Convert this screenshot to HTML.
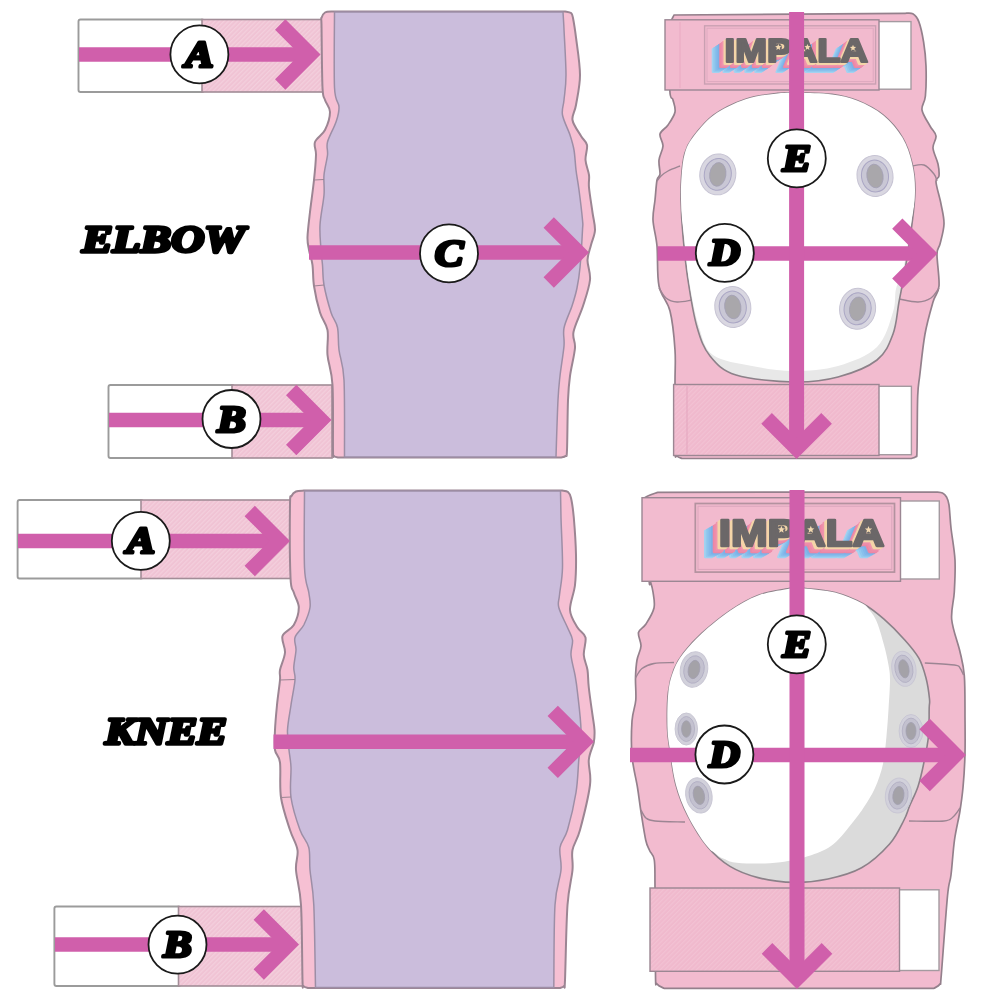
<!DOCTYPE html>
<html><head><meta charset="utf-8"><title>Impala protective sizing</title>
<style>
html,body{margin:0;padding:0;background:#fff;}
body{width:1000px;height:1000px;overflow:hidden;font-family:"Liberation Sans",sans-serif;}
svg{display:block;filter:blur(0.45px)}
.lt{font-family:"Liberation Serif",serif;font-weight:bold;font-style:italic;font-size:38px;fill:#000;stroke:#000;stroke-width:3.2px;stroke-linejoin:round}
.tt{font-family:"Liberation Serif",serif;font-weight:bold;font-style:italic;font-size:37px;fill:#000;stroke:#000;stroke-width:3.4px;stroke-linejoin:round}
.lg{font-family:"Liberation Sans",sans-serif;font-weight:bold;stroke-linejoin:round}
</style></head><body>
<svg width="1000" height="1000" viewBox="0 0 1000 1000">
<defs>
<pattern id="hatch" width="3.2" height="3.2" patternUnits="userSpaceOnUse" patternTransform="rotate(-45)"><rect width="3.2" height="1.2" fill="#fff" opacity="0.2"/></pattern>
<pattern id="hatch2" width="3.2" height="3.2" patternUnits="userSpaceOnUse" patternTransform="rotate(-45)"><rect width="3.2" height="1.1" fill="#fff" opacity="0.13"/></pattern>
</defs>
<rect width="1000" height="1000" fill="#fff"/>
<rect x="78.5" y="19.5" width="125.5" height="72.5" rx="2" fill="#fff" stroke="#9b9b9b" stroke-width="1.9"/>
<rect x="202.0" y="19.5" width="121.0" height="72.5" fill="#f0c3d4"/>
<rect x="202.0" y="19.5" width="121.0" height="72.5" fill="url(#hatch)" stroke="#a28d97" stroke-width="1.6"/>
<rect x="108.5" y="385.0" width="125.5" height="73.0" rx="2" fill="#fff" stroke="#9b9b9b" stroke-width="1.9"/>
<rect x="232.0" y="385.0" width="100.0" height="73.0" fill="#f0c3d4"/>
<rect x="232.0" y="385.0" width="100.0" height="73.0" fill="url(#hatch)" stroke="#a28d97" stroke-width="1.6"/>
<rect x="17.6" y="500.0" width="125.4" height="78.5" rx="2" fill="#fff" stroke="#9b9b9b" stroke-width="1.9"/>
<rect x="141.0" y="500.0" width="151.0" height="78.5" fill="#f0c3d4"/>
<rect x="141.0" y="500.0" width="151.0" height="78.5" fill="url(#hatch)" stroke="#a28d97" stroke-width="1.6"/>
<rect x="54.4" y="906.5" width="126.1" height="79.5" rx="2" fill="#fff" stroke="#9b9b9b" stroke-width="1.9"/>
<rect x="178.5" y="906.5" width="124.5" height="79.5" fill="#f0c3d4"/>
<rect x="178.5" y="906.5" width="124.5" height="79.5" fill="url(#hatch)" stroke="#a28d97" stroke-width="1.6"/>
<path d="M 333.0,11.5 C 331.7,11.7 326.9,11.4 325.0,12.5 C 323.1,13.6 322.1,15.9 321.5,18.0 C 320.9,20.1 321.3,13.4 321.5,25.0 C 321.7,36.6 321.9,75.0 322.5,87.5 C 323.1,100.0 323.8,95.9 325.0,100.0 C 326.2,104.1 330.0,107.0 330.0,112.0 C 330.0,117.0 327.5,125.0 325.0,130.0 C 322.5,135.0 316.5,137.8 315.0,142.0 C 313.5,146.2 316.2,148.7 316.0,155.0 C 315.8,161.3 315.0,170.5 314.0,180.0 C 313.0,189.5 311.1,202.5 310.0,212.0 C 308.9,221.5 307.7,230.7 307.5,237.0 C 307.3,243.3 308.2,245.3 309.0,250.0 C 309.8,254.7 311.7,259.0 312.5,265.0 C 313.3,271.0 312.8,278.1 314.0,286.0 C 315.2,293.9 317.8,305.2 320.0,312.5 C 322.2,319.8 326.2,322.9 327.5,330.0 C 328.8,337.1 326.7,345.8 327.5,355.0 C 328.3,364.2 331.6,369.2 332.5,385.0 C 333.4,400.8 332.8,438.2 333.0,450.0 C 333.2,461.8 333.2,454.8 334.0,456.0 C 334.8,457.2 337.3,457.2 338.0,457.5 L 561.0,457.5 C 561.8,457.2 564.5,457.2 565.5,456.0 C 566.5,454.8 566.6,459.3 567.0,450.0 C 567.4,440.7 567.5,412.3 568.0,400.0 C 568.5,387.7 568.8,384.7 570.0,376.0 C 571.2,367.3 574.4,355.3 575.0,348.0 C 575.6,340.7 572.2,339.0 573.5,332.0 C 574.8,325.0 580.2,314.7 583.0,306.0 C 585.8,297.3 589.2,287.7 590.0,280.0 C 590.8,272.3 587.3,265.8 587.5,260.0 C 587.7,254.2 589.8,250.0 591.0,245.0 C 592.2,240.0 594.8,235.4 595.0,230.0 C 595.2,224.6 593.5,219.6 592.5,212.5 C 591.5,205.4 589.6,193.8 589.0,187.5 C 588.4,181.2 589.6,179.6 589.0,175.0 C 588.4,170.4 585.8,165.0 585.5,160.0 C 585.2,155.0 587.8,149.0 587.0,145.0 C 586.2,141.0 583.4,140.2 581.0,136.0 C 578.6,131.8 573.3,125.2 572.5,120.0 C 571.7,114.8 574.8,112.5 576.0,105.0 C 577.2,97.5 580.0,86.2 580.0,75.0 C 580.0,63.8 577.2,47.0 576.0,37.5 C 574.8,28.0 573.8,22.1 573.0,18.0 C 572.2,13.9 572.3,14.1 571.0,13.0 C 569.7,11.9 566.0,11.8 565.0,11.5 Z" fill="#f6c0d3" stroke="#9c8593" stroke-width="2" stroke-linejoin="round"/>
<path d="M 334.5,12.0 C 334.5,24.6 333.8,71.7 334.5,87.5 C 335.2,103.3 338.8,101.2 339.0,107.0 C 339.2,112.8 337.9,116.2 336.0,122.0 C 334.1,127.8 328.9,136.5 327.5,142.0 C 326.1,147.5 328.1,149.5 327.5,155.0 C 326.9,160.5 324.6,168.3 324.0,175.0 C 323.4,181.7 324.7,186.7 324.0,195.0 C 323.3,203.3 320.5,215.8 320.0,225.0 C 319.5,234.2 320.6,243.3 321.0,250.0 C 321.4,256.7 322.0,259.2 322.5,265.0 C 323.0,270.8 322.6,277.1 324.0,285.0 C 325.4,292.9 328.8,305.4 331.0,312.5 C 333.2,319.6 336.2,321.2 337.5,327.5 C 338.8,333.8 337.9,341.2 339.0,350.0 C 340.1,358.8 343.1,362.2 344.0,380.0 C 344.9,397.8 344.4,444.2 344.5,457.0 L 556.0,457.0 C 556.3,447.5 557.3,413.5 558.0,400.0 C 558.7,386.5 559.0,385.0 560.0,376.0 C 561.0,367.0 563.3,354.0 564.0,346.0 C 564.7,338.0 562.7,334.7 564.0,328.0 C 565.3,321.3 569.8,312.7 572.0,306.0 C 574.2,299.3 575.7,294.4 577.0,288.0 C 578.3,281.6 579.1,277.2 580.0,267.5 C 580.9,257.8 582.1,237.9 582.5,230.0 C 582.9,222.1 583.1,226.7 582.5,220.0 C 581.9,213.3 580.1,198.3 579.0,190.0 C 577.9,181.7 576.8,176.7 576.0,170.0 C 575.2,163.3 575.0,155.8 574.0,150.0 C 573.0,144.2 571.9,140.8 570.0,135.0 C 568.1,129.2 563.5,120.8 562.5,115.0 C 561.5,109.2 563.4,106.7 564.0,100.0 C 564.6,93.3 566.0,87.5 566.0,75.0 C 566.0,62.5 564.2,35.5 563.8,25.0 C 563.2,14.5 563.1,14.2 563.0,12.0 Z" fill="#cbbddc" stroke="#9d8ea6" stroke-width="1.5" stroke-linejoin="round"/>
<path d="M 314.0,180.0 L 324.0,179.5" stroke="#9c8593" stroke-width="1.1" fill="none"/>
<path d="M 314.0,286.0 L 324.0,285.0" stroke="#9c8593" stroke-width="1.1" fill="none"/>
<path d="M 304.0,490.5 C 302.7,490.7 298.1,490.6 296.0,491.5 C 293.9,492.4 292.5,493.8 291.5,496.0 C 290.5,498.2 290.2,491.4 290.0,505.0 C 289.8,518.6 289.9,562.9 290.5,577.5 C 291.1,592.1 292.4,587.5 293.8,592.5 C 295.1,597.5 298.8,602.1 298.8,607.5 C 298.8,612.9 296.5,620.2 293.8,625.0 C 291.0,629.8 284.0,631.4 282.5,636.0 C 281.0,640.6 285.4,646.8 285.0,652.5 C 284.6,658.2 280.8,665.4 280.0,670.0 C 279.2,674.6 280.5,674.2 280.0,680.0 C 279.5,685.8 277.8,696.7 277.0,705.0 C 276.2,713.3 275.3,722.5 275.0,730.0 C 274.7,737.5 274.2,744.6 275.0,750.0 C 275.8,755.4 279.0,754.6 280.0,762.5 C 281.0,770.4 279.3,786.2 281.0,797.5 C 282.7,808.8 287.2,821.2 290.0,830.0 C 292.8,838.8 296.5,843.3 297.5,850.0 C 298.5,856.7 295.4,860.8 296.0,870.0 C 296.6,879.2 299.9,886.7 301.0,905.0 C 302.1,923.3 302.1,966.5 302.5,980.0 C 302.9,993.5 302.6,984.7 303.5,986.0 C 304.4,987.3 307.2,987.7 308.0,988.0 L 560.0,988.0 C 560.7,987.7 563.2,987.3 564.0,986.0 C 564.8,984.7 564.4,993.5 565.0,980.0 C 565.6,966.5 566.2,923.3 567.5,905.0 C 568.8,886.7 571.7,879.2 572.5,870.0 C 573.3,860.8 571.2,856.7 572.5,850.0 C 573.8,843.3 577.1,840.8 580.0,830.0 C 582.9,819.2 588.5,796.7 590.0,785.0 C 591.5,773.3 588.1,767.1 588.8,760.0 C 589.4,752.9 592.8,747.5 593.8,742.5 C 594.7,737.5 594.7,734.6 594.5,730.0 C 594.3,725.4 593.5,722.1 592.5,715.0 C 591.5,707.9 589.6,695.0 588.8,687.5 C 587.9,680.0 588.3,675.4 587.5,670.0 C 586.7,664.6 584.1,660.4 583.8,655.0 C 583.4,649.6 586.5,642.1 585.5,637.5 C 584.5,632.9 580.1,632.1 577.5,627.5 C 574.9,622.9 570.4,617.1 570.0,610.0 C 569.6,602.9 574.0,594.2 575.0,585.0 C 576.0,575.8 576.2,566.2 576.0,555.0 C 575.8,543.8 574.6,527.0 573.8,517.5 C 572.9,508.0 572.0,502.2 571.0,498.0 C 570.0,493.8 569.5,493.2 568.0,492.0 C 566.5,490.8 563.0,490.8 562.0,490.5 Z" fill="#f6c0d3" stroke="#9c8593" stroke-width="2" stroke-linejoin="round"/>
<path d="M 304.5,491.0 C 304.5,503.8 303.8,550.6 304.5,567.5 C 305.2,584.4 307.8,585.8 308.8,592.5 C 309.7,599.2 310.8,602.1 310.0,607.5 C 309.2,612.9 306.2,620.0 303.8,625.0 C 301.2,630.0 296.3,633.3 295.0,637.5 C 293.7,641.7 296.2,645.0 296.0,650.0 C 295.8,655.0 293.9,662.5 293.8,667.5 C 293.6,672.5 295.5,673.8 295.0,680.0 C 294.5,686.2 292.2,696.7 291.0,705.0 C 289.8,713.3 287.8,722.5 287.5,730.0 C 287.2,737.5 288.4,743.8 289.0,750.0 C 289.6,756.2 290.7,759.6 291.0,767.5 C 291.3,775.4 289.5,787.1 291.0,797.5 C 292.5,807.9 297.0,821.7 300.0,830.0 C 303.0,838.3 307.1,840.8 308.8,847.5 C 310.4,854.2 309.2,860.4 310.0,870.0 C 310.8,879.6 312.8,885.4 313.8,905.0 C 314.7,924.6 315.2,973.8 315.5,987.5 L 553.8,987.5 C 554.0,973.8 553.8,924.6 555.0,905.0 C 556.2,885.4 560.2,879.6 561.0,870.0 C 561.8,860.4 558.9,854.2 560.0,847.5 C 561.1,840.8 564.8,839.2 567.5,830.0 C 570.2,820.8 574.1,804.2 576.0,792.5 C 577.9,780.8 577.9,770.4 578.8,760.0 C 579.6,749.6 581.2,741.2 581.0,730.0 C 580.8,718.8 578.5,701.7 577.5,692.5 C 576.5,683.3 576.1,681.2 575.0,675.0 C 573.9,668.8 571.4,660.8 571.0,655.0 C 570.6,649.2 573.1,644.6 572.5,640.0 C 571.9,635.4 569.8,632.9 567.5,627.5 C 565.2,622.1 560.1,612.9 558.8,607.5 C 557.4,602.1 558.9,601.7 559.5,595.0 C 560.1,588.3 562.2,580.4 562.5,567.5 C 562.8,554.6 561.3,530.2 561.0,517.5 C 560.7,504.8 560.6,495.4 560.5,491.0 Z" fill="#cbbddc" stroke="#9d8ea6" stroke-width="1.5" stroke-linejoin="round"/>
<path d="M 280.0,680.0 L 295.0,679.5" stroke="#9c8593" stroke-width="1.1" fill="none"/>
<path d="M 281.0,797.5 L 291.0,797.0" stroke="#9c8593" stroke-width="1.1" fill="none"/>
<path d="M 79.0,54.5 L 308.2,54.5" stroke="#d05fab" stroke-width="14.6" fill="none"/>
<path d="M 280.2,24.5 L 310.2,54.5 L 280.2,84.5" stroke="#d05fab" stroke-width="14.6" fill="none" stroke-linejoin="miter" stroke-miterlimit="10"/>
<path d="M 109.0,420.0 L 319.2,420.0" stroke="#d05fab" stroke-width="14.6" fill="none"/>
<path d="M 291.2,390.0 L 321.2,420.0 L 291.2,450.0" stroke="#d05fab" stroke-width="14.6" fill="none" stroke-linejoin="miter" stroke-miterlimit="10"/>
<path d="M 309.0,252.5 L 576.7,252.5" stroke="#d05fab" stroke-width="14.6" fill="none"/>
<path d="M 548.7,222.5 L 578.7,252.5 L 548.7,282.5" stroke="#d05fab" stroke-width="14.6" fill="none" stroke-linejoin="miter" stroke-miterlimit="10"/>
<path d="M 18.0,541.0 L 277.7,541.0" stroke="#d05fab" stroke-width="14.6" fill="none"/>
<path d="M 249.7,511.0 L 279.7,541.0 L 249.7,571.0" stroke="#d05fab" stroke-width="14.6" fill="none" stroke-linejoin="miter" stroke-miterlimit="10"/>
<path d="M 55.0,944.5 L 286.7,944.5" stroke="#d05fab" stroke-width="14.6" fill="none"/>
<path d="M 258.7,914.5 L 288.7,944.5 L 258.7,974.5" stroke="#d05fab" stroke-width="14.6" fill="none" stroke-linejoin="miter" stroke-miterlimit="10"/>
<path d="M 273.5,741.8 L 581.7,741.8" stroke="#d05fab" stroke-width="14.6" fill="none"/>
<path d="M 552.7,710.8 L 583.7,741.8 L 552.7,772.8" stroke="#d05fab" stroke-width="14.6" fill="none" stroke-linejoin="miter" stroke-miterlimit="10"/>
<circle cx="199.4" cy="54.4" r="29.0" fill="#fff" stroke="#1a1a1a" stroke-width="1.8"/>
<text transform="translate(199.4 66.9) scale(1.13 1)" x="0" y="0" class="lt" text-anchor="middle">A</text>
<circle cx="231.5" cy="419.0" r="29.0" fill="#fff" stroke="#1a1a1a" stroke-width="1.8"/>
<text transform="translate(231.5 431.5) scale(1.13 1)" x="0" y="0" class="lt" text-anchor="middle">B</text>
<circle cx="449.0" cy="253.4" r="29.0" fill="#fff" stroke="#1a1a1a" stroke-width="1.8"/>
<text transform="translate(449.0 265.9) scale(1.13 1)" x="0" y="0" class="lt" text-anchor="middle">C</text>
<circle cx="140.8" cy="540.8" r="29.0" fill="#fff" stroke="#1a1a1a" stroke-width="1.8"/>
<text transform="translate(140.8 553.3) scale(1.13 1)" x="0" y="0" class="lt" text-anchor="middle">A</text>
<circle cx="177.5" cy="944.6" r="29.0" fill="#fff" stroke="#1a1a1a" stroke-width="1.8"/>
<text transform="translate(177.5 957.1) scale(1.13 1)" x="0" y="0" class="lt" text-anchor="middle">B</text>
<text x="82" y="251.5" class="tt" textLength="163" lengthAdjust="spacingAndGlyphs">ELBOW</text>
<text x="105" y="743.6" class="tt" textLength="122" lengthAdjust="spacingAndGlyphs">KNEE</text>
<path d="M 674.0,15.0 C 673.3,17.5 670.7,17.5 670.0,30.0 C 669.3,42.5 669.3,78.3 669.8,90.0 C 670.3,101.7 672.1,96.3 673.0,100.0 C 673.9,103.7 675.8,107.8 675.0,112.0 C 674.2,116.2 670.5,121.3 668.0,125.0 C 665.5,128.7 660.8,130.5 660.0,134.0 C 659.2,137.5 663.2,141.7 663.0,146.0 C 662.8,150.3 659.5,155.3 659.0,160.0 C 658.5,164.7 660.3,170.7 660.0,174.0 C 659.7,177.3 657.8,175.7 657.0,180.0 C 656.2,184.3 655.7,193.3 655.0,200.0 C 654.3,206.7 652.7,212.3 653.0,220.0 C 653.3,227.7 656.0,235.0 657.0,246.0 C 658.0,257.0 656.8,275.2 659.0,286.0 C 661.2,296.8 667.3,300.3 670.0,311.0 C 672.7,321.7 674.2,338.0 675.0,350.0 C 675.8,362.0 675.0,366.3 675.0,383.0 C 675.0,399.7 674.7,437.8 675.0,450.0 C 675.3,462.2 675.8,454.6 677.0,456.0 C 678.2,457.4 681.2,458.1 682.0,458.5 L 911.0,458.5 C 911.8,458.2 915.0,457.9 916.0,456.5 C 917.0,455.1 916.7,460.1 917.0,450.0 C 917.3,439.9 917.2,408.5 917.7,396.0 C 918.2,383.5 918.6,385.3 919.8,375.0 C 921.0,364.7 922.8,346.2 925.0,334.0 C 927.2,321.8 930.7,310.0 933.0,302.0 C 935.3,294.0 938.3,294.0 939.0,286.0 C 939.7,278.0 936.8,261.0 937.0,254.0 C 937.2,247.0 938.8,249.0 940.0,244.0 C 941.2,239.0 943.8,230.7 944.0,224.0 C 944.2,217.3 942.3,211.0 941.0,204.0 C 939.7,197.0 936.3,186.7 936.0,182.0 C 935.7,177.3 938.7,179.0 939.0,176.0 C 939.3,173.0 939.0,168.7 938.0,164.0 C 937.0,159.3 933.3,152.7 933.0,148.0 C 932.7,143.3 936.5,139.7 936.0,136.0 C 935.5,132.3 932.3,130.3 930.0,126.0 C 927.7,121.7 922.8,115.0 922.0,110.0 C 921.2,105.0 924.7,103.3 925.4,96.0 C 926.1,88.7 926.3,75.0 926.0,66.0 C 925.7,57.0 924.8,49.4 923.6,42.0 C 922.4,34.6 920.6,26.3 918.8,21.6 C 917.0,16.9 915.1,15.2 912.8,13.8 C 910.5,12.4 906.3,13.4 905.0,13.3 Z" fill="#f2bbcf" stroke="#94808c" stroke-width="1.7" stroke-linejoin="round"/>
<path d="M 657.0,181.0 C 657.7,180.2 659.2,177.7 661.0,176.0 C 662.8,174.3 664.8,172.7 668.0,171.0 C 671.2,169.3 678.0,166.8 680.0,166.0" fill="none" stroke="#9c8593" stroke-width="1.4"/>
<path d="M 912.0,166.0 C 914.0,165.8 920.3,163.7 924.0,165.0 C 927.7,166.3 931.8,171.3 934.0,174.0 C 936.2,176.7 936.5,179.8 937.0,181.0" fill="none" stroke="#9c8593" stroke-width="1.4"/>
<path d="M 659.0,288.0 C 660.2,289.7 663.0,295.7 666.0,298.0 C 669.0,300.3 672.7,301.7 677.0,302.0 C 681.3,302.3 689.5,300.3 692.0,300.0" fill="none" stroke="#9c8593" stroke-width="1.4"/>
<path d="M 939.0,288.0 C 937.7,289.7 934.5,295.7 931.0,298.0 C 927.5,300.3 923.3,301.8 918.0,302.0 C 912.7,302.2 902.2,299.5 899.0,299.0" fill="none" stroke="#9c8593" stroke-width="1.4"/>
<path d="M 800.0,92.8 C 805.3,93.1 822.4,93.1 832.0,94.4 C 841.6,95.7 849.1,97.3 857.6,100.8 C 866.1,104.3 875.7,109.1 883.2,115.2 C 890.7,121.3 897.6,129.6 902.4,137.6 C 907.2,145.6 909.9,154.5 912.0,163.2 C 914.1,171.9 915.0,179.9 915.0,190.0 C 915.0,200.1 913.7,210.7 912.0,224.0 C 910.3,237.3 907.2,257.0 905.0,270.0 C 902.8,283.0 901.0,291.3 899.0,302.0 C 897.0,312.7 896.7,324.3 893.0,334.0 C 889.3,343.7 886.2,352.8 877.0,360.0 C 867.8,367.2 851.8,373.3 838.0,377.0 C 824.2,380.7 811.0,382.3 794.0,382.0 C 777.0,381.7 750.0,379.3 736.0,375.0 C 722.0,370.7 716.5,364.0 710.0,356.0 C 703.5,348.0 700.7,339.7 697.0,327.0 C 693.3,314.3 690.3,295.2 688.0,280.0 C 685.7,264.8 684.2,249.3 683.0,236.0 C 681.8,222.7 681.2,210.0 681.0,200.0 C 680.8,190.0 681.0,183.7 681.6,176.0 C 682.2,168.3 682.9,160.0 684.8,153.6 C 686.7,147.2 688.0,144.0 692.8,137.6 C 697.6,131.2 704.8,121.6 713.6,115.2 C 722.4,108.8 734.9,102.8 745.6,99.2 C 756.3,95.6 768.5,94.5 777.6,93.4 C 786.7,92.3 796.3,92.9 800.0,92.8 Z" fill="#e8e8e8" stroke="#8c8189" stroke-width="1.6"/>
<clipPath id="capclip"><path d="M 800.0,92.8 C 805.3,93.1 822.4,93.1 832.0,94.4 C 841.6,95.7 849.1,97.3 857.6,100.8 C 866.1,104.3 875.7,109.1 883.2,115.2 C 890.7,121.3 897.6,129.6 902.4,137.6 C 907.2,145.6 909.9,154.5 912.0,163.2 C 914.1,171.9 915.0,179.9 915.0,190.0 C 915.0,200.1 913.7,210.7 912.0,224.0 C 910.3,237.3 907.2,257.0 905.0,270.0 C 902.8,283.0 901.0,291.3 899.0,302.0 C 897.0,312.7 896.7,324.3 893.0,334.0 C 889.3,343.7 886.2,352.8 877.0,360.0 C 867.8,367.2 851.8,373.3 838.0,377.0 C 824.2,380.7 811.0,382.3 794.0,382.0 C 777.0,381.7 750.0,379.3 736.0,375.0 C 722.0,370.7 716.5,364.0 710.0,356.0 C 703.5,348.0 700.7,339.7 697.0,327.0 C 693.3,314.3 690.3,295.2 688.0,280.0 C 685.7,264.8 684.2,249.3 683.0,236.0 C 681.8,222.7 681.2,210.0 681.0,200.0 C 680.8,190.0 681.0,183.7 681.6,176.0 C 682.2,168.3 682.9,160.0 684.8,153.6 C 686.7,147.2 688.0,144.0 692.8,137.6 C 697.6,131.2 704.8,121.6 713.6,115.2 C 722.4,108.8 734.9,102.8 745.6,99.2 C 756.3,95.6 768.5,94.5 777.6,93.4 C 786.7,92.3 796.3,92.9 800.0,92.8 Z"/></clipPath>
<path d="M 800.0,90.0 C 805.3,90.3 822.4,90.5 832.0,92.0 C 841.6,93.5 849.1,95.5 857.6,99.0 C 866.1,102.5 875.6,106.8 883.2,113.0 C 890.8,119.2 898.0,127.6 903.0,136.0 C 908.0,144.4 910.8,154.2 913.0,163.2 C 915.2,172.2 916.3,179.9 916.0,190.0 C 915.7,200.1 913.2,210.7 911.0,224.0 C 908.8,237.3 905.5,259.2 903.0,270.0 C 900.5,280.8 897.7,282.0 896.0,289.0 C 894.3,296.0 896.2,302.3 893.0,312.0 C 889.8,321.7 886.2,338.0 877.0,347.0 C 867.8,356.0 851.8,362.0 838.0,366.0 C 824.2,370.0 808.3,371.0 794.0,371.0 C 779.7,371.0 765.5,368.7 752.0,366.0 C 738.5,363.3 721.8,361.5 713.0,355.0 C 704.2,348.5 703.0,339.5 699.0,327.0 C 695.0,314.5 691.5,295.2 689.0,280.0 C 686.5,264.8 685.5,249.3 684.0,236.0 C 682.5,222.7 680.7,210.0 680.0,200.0 C 679.3,190.0 679.5,183.7 680.0,176.0 C 680.5,168.3 681.2,160.0 683.0,153.6 C 684.8,147.2 686.2,144.2 691.0,137.6 C 695.8,131.0 702.9,120.8 712.0,114.0 C 721.1,107.2 734.7,100.8 745.6,97.0 C 756.5,93.2 768.5,92.2 777.6,91.0 C 786.7,89.8 796.3,90.2 800.0,90.0 Z" fill="#fff" clip-path="url(#capclip)"/>
<g transform="rotate(8 717.8 174.4)"><ellipse cx="717.8" cy="174.4" rx="18.0" ry="20.5" fill="#d9d7e1" stroke="#c6c3d3" stroke-width="1"/><ellipse cx="717.8" cy="174.4" rx="13.5" ry="16.0" fill="#c9c7d5" stroke="#aaa6c4" stroke-width="1"/><ellipse cx="717.8" cy="174.4" rx="8.1" ry="11.9" fill="#a9a7ab" stroke="#a39fb5" stroke-width="0.8"/></g>
<g transform="rotate(-8 875.0 176.0)"><ellipse cx="875.0" cy="176.0" rx="18.0" ry="20.5" fill="#d9d7e1" stroke="#c6c3d3" stroke-width="1"/><ellipse cx="875.0" cy="176.0" rx="13.5" ry="16.0" fill="#c9c7d5" stroke="#aaa6c4" stroke-width="1"/><ellipse cx="875.0" cy="176.0" rx="8.1" ry="11.9" fill="#a9a7ab" stroke="#a39fb5" stroke-width="0.8"/></g>
<g transform="rotate(-8 732.8 307.0)"><ellipse cx="732.8" cy="307.0" rx="18.0" ry="20.5" fill="#d9d7e1" stroke="#c6c3d3" stroke-width="1"/><ellipse cx="732.8" cy="307.0" rx="13.5" ry="16.0" fill="#c9c7d5" stroke="#aaa6c4" stroke-width="1"/><ellipse cx="732.8" cy="307.0" rx="8.1" ry="11.9" fill="#a9a7ab" stroke="#a39fb5" stroke-width="0.8"/></g>
<g transform="rotate(8 857.6 308.8)"><ellipse cx="857.6" cy="308.8" rx="18.0" ry="20.5" fill="#d9d7e1" stroke="#c6c3d3" stroke-width="1"/><ellipse cx="857.6" cy="308.8" rx="13.5" ry="16.0" fill="#c9c7d5" stroke="#aaa6c4" stroke-width="1"/><ellipse cx="857.6" cy="308.8" rx="8.1" ry="11.9" fill="#a9a7ab" stroke="#a39fb5" stroke-width="0.8"/></g>
<rect x="877.0" y="21.6" width="34.0" height="67.6" fill="#fff" stroke="#a49aa0" stroke-width="1.4"/>
<rect x="665.0" y="19.8" width="214.0" height="70.2" fill="#f2bbcf" stroke="#9b8793" stroke-width="1.4"/>
<path d="M 680,22 L 680,88" stroke="#e9a9c2" stroke-width="1"/>
<rect x="704.6" y="25.8" width="171" height="58.2" fill="#f2bace" stroke="#c9a0b2" stroke-width="1.4"/>
<rect x="707" y="28.2" width="166.2" height="53.4" fill="none" stroke="#dda9bf" stroke-width="1"/>
<rect x="877.0" y="386.3" width="34.4" height="68.4" fill="#fff" stroke="#a49aa0" stroke-width="1.4"/>
<rect x="673.6" y="384.5" width="205.4" height="71.0" fill="#f0b9cd" stroke="#9b8793" stroke-width="1.4"/>
<rect x="674.6" y="385.5" width="203.4" height="69.0" fill="url(#hatch2)"/>
<path d="M 687,386 L 687,455" stroke="#e3a5be" stroke-width="1"/>
<text x="710.6" y="71.9" class="lg" font-size="32.5" textLength="143.5" lengthAdjust="spacingAndGlyphs" fill="#a3d2f0" stroke="#a3d2f0" stroke-width="2.2">IMPALA</text>
<text x="712.1" y="70.9" class="lg" font-size="32.5" textLength="143.5" lengthAdjust="spacingAndGlyphs" fill="#93c9ee" stroke="#93c9ee" stroke-width="2.2">IMPALA</text>
<text x="713.6" y="69.9" class="lg" font-size="32.5" textLength="143.5" lengthAdjust="spacingAndGlyphs" fill="#89c0ec" stroke="#89c0ec" stroke-width="2.2">IMPALA</text>
<text x="715.1" y="68.9" class="lg" font-size="32.5" textLength="143.5" lengthAdjust="spacingAndGlyphs" fill="#82b8ea" stroke="#82b8ea" stroke-width="2.2">IMPALA</text>
<text x="716.6" y="67.9" class="lg" font-size="32.5" textLength="143.5" lengthAdjust="spacingAndGlyphs" fill="#7db0e6" stroke="#7db0e6" stroke-width="2.2">IMPALA</text>
<text x="718.1" y="67.0" class="lg" font-size="32.5" textLength="143.5" lengthAdjust="spacingAndGlyphs" fill="#ec86a4" stroke="#ec86a4" stroke-width="2.2">IMPALA</text>
<text x="719.4" y="66.1" class="lg" font-size="32.5" textLength="143.5" lengthAdjust="spacingAndGlyphs" fill="#ee8ca9" stroke="#ee8ca9" stroke-width="2.2">IMPALA</text>
<text x="720.7" y="65.2" class="lg" font-size="32.5" textLength="143.5" lengthAdjust="spacingAndGlyphs" fill="#f095ad" stroke="#f095ad" stroke-width="2.2">IMPALA</text>
<text x="722.2" y="64.1" class="lg" font-size="32.5" textLength="143.5" lengthAdjust="spacingAndGlyphs" fill="#f4d5a8" stroke="#f4d5a8" stroke-width="2.2">IMPALA</text>
<text x="723.4" y="63.2" class="lg" font-size="32.5" textLength="143.5" lengthAdjust="spacingAndGlyphs" fill="#f4d5a8" stroke="#f4d5a8" stroke-width="2.2">IMPALA</text>
<text x="724.6" y="62.4" class="lg" font-size="32.5" textLength="143.5" lengthAdjust="spacingAndGlyphs" fill="#6b6768" stroke="#6b6768" stroke-width="2.2">IMPALA</text>
<circle cx="778.3" cy="47.3" r="3.5" fill="#6b6768"/>
<polygon points="778.3,44.0 779.2,46.1 781.4,46.3 779.7,47.8 780.2,50.0 778.3,48.8 776.4,50.0 776.9,47.8 775.2,46.3 777.4,46.1" fill="#f3d9b0"/>
<circle cx="807.5" cy="47.3" r="3.5" fill="#6b6768"/>
<polygon points="807.5,44.0 808.4,46.1 810.6,46.3 808.9,47.8 809.4,50.0 807.5,48.8 805.6,50.0 806.1,47.8 804.4,46.3 806.6,46.1" fill="#f3d9b0"/>
<circle cx="853.0" cy="48.0" r="3.5" fill="#6b6768"/>
<polygon points="853.0,44.7 853.9,46.8 856.1,47.0 854.4,48.5 854.9,50.7 853.0,49.5 851.1,50.7 851.6,48.5 849.9,47.0 852.1,46.8" fill="#f3d9b0"/>
<path d="M 657.6,253.6 L 925.3,253.6" stroke="#d05fab" stroke-width="14.5" fill="none"/>
<path d="M 897.3,223.6 L 927.3,253.6 L 897.3,283.6" stroke="#d05fab" stroke-width="14.5" fill="none" stroke-linejoin="miter" stroke-miterlimit="10"/>
<path d="M 796.6,12.0 L 796.6,446.4" stroke="#d05fab" stroke-width="15" fill="none"/>
<path d="M 766.6,418.4 L 796.6,448.4 L 826.6,418.4" stroke="#d05fab" stroke-width="15" fill="none" stroke-linejoin="miter" stroke-miterlimit="10"/>
<circle cx="796.8" cy="158.4" r="29.0" fill="#fff" stroke="#1a1a1a" stroke-width="1.8"/>
<text transform="translate(796.8 170.9) scale(1.13 1)" x="0" y="0" class="lt" text-anchor="middle">E</text>
<circle cx="724.8" cy="252.8" r="29.0" fill="#fff" stroke="#1a1a1a" stroke-width="1.8"/>
<text transform="translate(724.8 265.3) scale(1.13 1)" x="0" y="0" class="lt" text-anchor="middle">D</text>
<path d="M 658.0,492.3 C 655.7,493.3 646.0,495.6 644.0,498.5 C 642.0,501.4 645.2,496.6 646.0,510.0 C 646.8,523.4 648.2,567.0 649.0,579.0 C 649.8,591.0 649.8,579.8 650.5,582.0 C 651.2,584.2 652.4,587.7 653.0,592.0 C 653.6,596.3 655.2,602.7 654.0,608.0 C 652.8,613.3 648.6,619.9 646.0,624.0 C 643.4,628.1 639.3,628.8 638.5,632.5 C 637.7,636.2 641.2,641.4 641.0,646.0 C 640.8,650.6 637.9,654.7 637.0,660.0 C 636.1,665.3 635.7,671.3 635.5,678.0 C 635.3,684.7 636.3,692.8 635.8,700.0 C 635.2,707.2 632.6,711.7 632.0,721.0 C 631.4,730.3 631.1,744.9 632.0,756.0 C 632.9,767.1 636.0,778.2 637.5,787.5 C 639.0,796.8 639.6,803.2 641.0,812.0 C 642.4,820.8 644.3,833.6 645.7,840.0 C 647.1,846.4 648.2,847.2 649.6,850.5 C 651.0,853.8 653.4,853.9 654.3,860.0 C 655.2,866.1 654.8,867.8 655.0,887.0 C 655.2,906.2 655.2,958.8 655.5,975.0 C 655.8,991.2 655.6,981.8 657.0,984.0 C 658.4,986.2 662.8,987.6 664.0,988.3 L 934.0,988.3 C 935.0,987.6 938.8,986.2 940.0,984.0 C 941.2,981.8 940.0,989.7 941.3,975.0 C 942.5,960.3 945.9,912.7 947.5,896.0 C 949.1,879.3 949.8,884.3 951.0,875.0 C 952.2,865.7 953.0,850.5 954.5,840.0 C 956.0,829.5 958.3,820.8 959.8,812.0 C 961.2,803.2 962.1,797.2 963.0,787.5 C 963.9,777.8 964.7,765.7 965.0,754.0 C 965.3,742.3 965.1,730.6 965.0,717.5 C 964.9,704.4 965.2,686.6 964.3,675.5 C 963.4,664.4 961.9,660.3 959.8,651.0 C 957.6,641.7 952.6,629.3 951.7,619.5 C 950.8,609.7 953.8,601.9 954.3,592.0 C 954.8,582.1 955.5,570.7 955.0,560.0 C 954.5,549.3 952.0,537.2 951.0,528.0 C 950.0,518.8 949.8,510.2 949.0,505.0 C 948.2,499.8 947.6,499.0 946.5,497.0 C 945.4,495.0 944.2,493.8 942.5,493.0 C 940.8,492.2 937.1,492.2 936.0,492.0 Z" fill="#f2bbcf" stroke="#94808c" stroke-width="1.7" stroke-linejoin="round"/>
<path d="M 635.5,678.0 C 636.6,676.4 638.9,670.9 642.0,668.5 C 645.1,666.1 648.7,664.5 654.0,663.5 C 659.3,662.5 670.7,662.7 674.0,662.5" fill="none" stroke="#9c8593" stroke-width="1.4"/>
<path d="M 924.8,663.0 C 929.7,663.3 948.6,664.2 954.5,665.0 C 960.4,665.8 958.5,666.3 960.0,668.0 C 961.5,669.7 962.9,673.8 963.5,675.0" fill="none" stroke="#9c8593" stroke-width="1.4"/>
<path d="M 641.0,810.0 C 641.8,811.3 643.7,816.2 646.0,818.0 C 648.3,819.8 648.5,820.3 655.0,821.0 C 661.5,821.7 680.0,821.8 685.0,822.0" fill="none" stroke="#9c8593" stroke-width="1.4"/>
<path d="M 909.0,821.0 C 914.8,821.0 936.7,821.7 944.0,821.0 C 951.3,820.3 950.3,819.2 953.0,817.0 C 955.7,814.8 958.8,809.5 960.0,808.0" fill="none" stroke="#9c8593" stroke-width="1.4"/>
<path d="M 790.0,588.4 C 792.4,588.4 796.7,587.7 804.2,588.4 C 811.7,589.1 825.2,590.0 835.0,592.6 C 844.8,595.2 854.8,599.4 863.0,603.8 C 871.2,608.2 877.0,613.1 884.0,619.2 C 891.0,625.3 899.2,633.7 905.0,640.2 C 910.8,646.7 915.5,652.1 919.0,658.4 C 922.5,664.7 924.2,671.2 926.0,678.0 C 927.8,684.8 929.0,694.0 929.5,699.0 C 930.0,704.0 929.4,701.8 929.2,708.0 C 929.0,714.2 929.4,726.7 928.5,736.0 C 927.6,745.3 925.4,755.6 923.6,764.0 C 921.9,772.4 920.3,779.4 918.0,786.4 C 915.7,793.4 911.9,800.4 909.6,806.0 C 907.3,811.6 907.3,813.7 904.0,820.0 C 900.7,826.3 896.7,836.0 889.6,844.0 C 882.5,852.0 871.9,862.0 861.6,867.8 C 851.3,873.6 839.2,876.6 828.0,879.0 C 816.8,881.4 806.1,882.6 794.4,882.4 C 782.7,882.2 768.7,880.3 758.0,877.6 C 747.3,874.9 738.4,871.5 730.0,866.4 C 721.6,861.3 714.6,855.2 707.6,846.8 C 700.6,838.4 693.3,826.3 688.0,816.0 C 682.7,805.7 679.0,796.0 676.0,785.0 C 673.0,774.0 671.4,759.5 670.0,750.0 C 668.6,740.5 667.8,737.7 667.5,728.0 C 667.2,718.3 667.3,701.7 668.4,692.0 C 669.5,682.3 671.4,676.1 674.0,669.6 C 676.6,663.1 679.1,658.9 683.8,652.8 C 688.5,646.7 694.3,640.2 702.0,633.2 C 709.7,626.2 720.7,617.1 730.0,610.8 C 739.3,604.5 748.0,599.1 758.0,595.4 C 768.0,591.7 784.7,589.6 790.0,588.4 Z" fill="#dbdbdb" stroke="#8c8189" stroke-width="1.6"/>
<clipPath id="kcapclip"><path d="M 790.0,588.4 C 792.4,588.4 796.7,587.7 804.2,588.4 C 811.7,589.1 825.2,590.0 835.0,592.6 C 844.8,595.2 854.8,599.4 863.0,603.8 C 871.2,608.2 877.0,613.1 884.0,619.2 C 891.0,625.3 899.2,633.7 905.0,640.2 C 910.8,646.7 915.5,652.1 919.0,658.4 C 922.5,664.7 924.2,671.2 926.0,678.0 C 927.8,684.8 929.0,694.0 929.5,699.0 C 930.0,704.0 929.4,701.8 929.2,708.0 C 929.0,714.2 929.4,726.7 928.5,736.0 C 927.6,745.3 925.4,755.6 923.6,764.0 C 921.9,772.4 920.3,779.4 918.0,786.4 C 915.7,793.4 911.9,800.4 909.6,806.0 C 907.3,811.6 907.3,813.7 904.0,820.0 C 900.7,826.3 896.7,836.0 889.6,844.0 C 882.5,852.0 871.9,862.0 861.6,867.8 C 851.3,873.6 839.2,876.6 828.0,879.0 C 816.8,881.4 806.1,882.6 794.4,882.4 C 782.7,882.2 768.7,880.3 758.0,877.6 C 747.3,874.9 738.4,871.5 730.0,866.4 C 721.6,861.3 714.6,855.2 707.6,846.8 C 700.6,838.4 693.3,826.3 688.0,816.0 C 682.7,805.7 679.0,796.0 676.0,785.0 C 673.0,774.0 671.4,759.5 670.0,750.0 C 668.6,740.5 667.8,737.7 667.5,728.0 C 667.2,718.3 667.3,701.7 668.4,692.0 C 669.5,682.3 671.4,676.1 674.0,669.6 C 676.6,663.1 679.1,658.9 683.8,652.8 C 688.5,646.7 694.3,640.2 702.0,633.2 C 709.7,626.2 720.7,617.1 730.0,610.8 C 739.3,604.5 748.0,599.1 758.0,595.4 C 768.0,591.7 784.7,589.6 790.0,588.4 Z"/></clipPath>
<path d="M 840.0,570.0 C 844.1,575.7 858.8,595.7 864.8,604.0 C 870.8,612.3 872.8,613.2 876.0,620.0 C 879.2,626.8 881.9,637.5 884.0,645.0 C 886.1,652.5 887.5,659.2 888.5,665.0 C 889.5,670.8 890.0,672.8 890.0,680.0 C 890.0,687.2 889.2,698.7 888.6,708.0 C 888.0,717.3 887.4,726.7 886.5,736.0 C 885.6,745.3 884.9,755.3 883.0,764.0 C 881.1,772.7 878.2,780.8 875.0,788.0 C 871.8,795.2 867.7,801.3 864.0,807.0 C 860.3,812.7 858.1,815.8 853.0,822.0 C 847.9,828.2 840.6,838.5 833.6,844.0 C 826.6,849.5 820.1,852.2 811.2,855.2 C 802.3,858.2 790.2,860.8 780.4,862.2 C 770.6,863.6 760.3,863.6 752.4,863.6 C 744.5,863.6 737.9,863.1 732.8,862.2 C 727.7,861.3 727.5,860.0 722.0,858.0 C 716.5,856.0 712.0,846.3 700.0,850.0 C 688.0,853.7 660.0,905.0 650.0,880.0 C 640.0,855.0 640.0,753.3 640.0,700.0 C 640.0,646.7 648.3,583.3 650.0,560.0 Z" fill="#fff" clip-path="url(#kcapclip)"/>
<g transform="rotate(12 694.0 669.5)"><ellipse cx="694.0" cy="669.5" rx="13.6" ry="17.8" fill="#d2d1db" stroke="#c9c7d4" stroke-width="1"/><ellipse cx="694.0" cy="669.5" rx="10.1" ry="13.9" fill="#c3c1cf" stroke="#b3b0c4" stroke-width="0.9"/><ellipse cx="694.0" cy="669.5" rx="5.7" ry="9.3" fill="#a4a2a8" stroke="#a29fb0" stroke-width="0.8"/></g>
<g transform="rotate(0 686.3 729.0)"><ellipse cx="686.3" cy="729.0" rx="11.2" ry="16.0" fill="#d2d1db" stroke="#c9c7d4" stroke-width="1"/><ellipse cx="686.3" cy="729.0" rx="8.3" ry="12.5" fill="#c3c1cf" stroke="#b3b0c4" stroke-width="0.9"/><ellipse cx="686.3" cy="729.0" rx="4.7" ry="8.3" fill="#a4a2a8" stroke="#a29fb0" stroke-width="0.8"/></g>
<g transform="rotate(-12 698.9 795.3)"><ellipse cx="698.9" cy="795.3" rx="13.0" ry="17.8" fill="#d2d1db" stroke="#c9c7d4" stroke-width="1"/><ellipse cx="698.9" cy="795.3" rx="9.6" ry="13.9" fill="#c3c1cf" stroke="#b3b0c4" stroke-width="0.9"/><ellipse cx="698.9" cy="795.3" rx="5.5" ry="9.3" fill="#a4a2a8" stroke="#a29fb0" stroke-width="0.8"/></g>
<g transform="rotate(-10 903.9 668.8)"><ellipse cx="903.9" cy="668.8" rx="12.0" ry="17.7" fill="#d2d1db" stroke="#c9c7d4" stroke-width="1"/><ellipse cx="903.9" cy="668.8" rx="8.9" ry="13.8" fill="#c3c1cf" stroke="#b3b0c4" stroke-width="0.9"/><ellipse cx="903.9" cy="668.8" rx="5.0" ry="9.2" fill="#a4a2a8" stroke="#a29fb0" stroke-width="0.8"/></g>
<g transform="rotate(0 911.0 731.0)"><ellipse cx="911.0" cy="731.0" rx="11.9" ry="16.5" fill="#d2d1db" stroke="#c9c7d4" stroke-width="1"/><ellipse cx="911.0" cy="731.0" rx="8.8" ry="12.9" fill="#c3c1cf" stroke="#b3b0c4" stroke-width="0.9"/><ellipse cx="911.0" cy="731.0" rx="5.0" ry="8.6" fill="#a4a2a8" stroke="#a29fb0" stroke-width="0.8"/></g>
<g transform="rotate(8 898.4 795.5)"><ellipse cx="898.4" cy="795.5" rx="13.0" ry="17.5" fill="#d2d1db" stroke="#c9c7d4" stroke-width="1"/><ellipse cx="898.4" cy="795.5" rx="9.6" ry="13.7" fill="#c3c1cf" stroke="#b3b0c4" stroke-width="0.9"/><ellipse cx="898.4" cy="795.5" rx="5.5" ry="9.1" fill="#a4a2a8" stroke="#a29fb0" stroke-width="0.8"/></g>
<rect x="898.5" y="501.0" width="40.8" height="78.0" fill="#fff" stroke="#a49aa0" stroke-width="1.4"/>
<rect x="642.0" y="497.7" width="258.5" height="83.6" fill="#f2bbcf" stroke="#9b8793" stroke-width="1.4"/>
<rect x="695.3" y="503.5" width="199.2" height="68.6" fill="#f2bace" stroke="#b3929f" stroke-width="1.7"/>
<rect x="698" y="506.2" width="193.8" height="63.2" fill="none" stroke="#dba6bc" stroke-width="1"/>
<rect x="897.5" y="889.8" width="41.5" height="80.7" fill="#fff" stroke="#a49aa0" stroke-width="1.4"/>
<rect x="650.0" y="888.0" width="249.5" height="83.3" fill="#f0b9cd" stroke="#9b8793" stroke-width="1.4"/>
<rect x="651.0" y="889.0" width="247.5" height="81.3" fill="url(#hatch2)"/>
<text x="702.6" y="557.1" class="lg" font-size="37" textLength="165.5" lengthAdjust="spacingAndGlyphs" fill="#a3d2f0" stroke="#a3d2f0" stroke-width="2.4">IMPALA</text>
<text x="704.3" y="556.0" class="lg" font-size="37" textLength="165.5" lengthAdjust="spacingAndGlyphs" fill="#93c9ee" stroke="#93c9ee" stroke-width="2.4">IMPALA</text>
<text x="706.1" y="554.8" class="lg" font-size="37" textLength="165.5" lengthAdjust="spacingAndGlyphs" fill="#89c0ec" stroke="#89c0ec" stroke-width="2.4">IMPALA</text>
<text x="707.8" y="553.7" class="lg" font-size="37" textLength="165.5" lengthAdjust="spacingAndGlyphs" fill="#82b8ea" stroke="#82b8ea" stroke-width="2.4">IMPALA</text>
<text x="709.5" y="552.5" class="lg" font-size="37" textLength="165.5" lengthAdjust="spacingAndGlyphs" fill="#7db0e6" stroke="#7db0e6" stroke-width="2.4">IMPALA</text>
<text x="711.2" y="551.5" class="lg" font-size="37" textLength="165.5" lengthAdjust="spacingAndGlyphs" fill="#ec86a4" stroke="#ec86a4" stroke-width="2.4">IMPALA</text>
<text x="712.7" y="550.5" class="lg" font-size="37" textLength="165.5" lengthAdjust="spacingAndGlyphs" fill="#ee8ca9" stroke="#ee8ca9" stroke-width="2.4">IMPALA</text>
<text x="714.2" y="549.4" class="lg" font-size="37" textLength="165.5" lengthAdjust="spacingAndGlyphs" fill="#f095ad" stroke="#f095ad" stroke-width="2.4">IMPALA</text>
<text x="715.9" y="548.2" class="lg" font-size="37" textLength="165.5" lengthAdjust="spacingAndGlyphs" fill="#f4d5a8" stroke="#f4d5a8" stroke-width="2.4">IMPALA</text>
<text x="717.3" y="547.1" class="lg" font-size="37" textLength="165.5" lengthAdjust="spacingAndGlyphs" fill="#f4d5a8" stroke="#f4d5a8" stroke-width="2.4">IMPALA</text>
<text x="718.7" y="546.2" class="lg" font-size="37" textLength="165.5" lengthAdjust="spacingAndGlyphs" fill="#6b6768" stroke="#6b6768" stroke-width="2.4">IMPALA</text>
<circle cx="781.4" cy="529.6" r="4.0" fill="#6b6768"/>
<polygon points="781.4,525.8 782.4,528.2 785.0,528.4 783.0,530.1 783.6,532.7 781.4,531.3 779.2,532.7 779.8,530.1 777.8,528.4 780.4,528.2" fill="#f3d9b0"/>
<circle cx="810.8" cy="529.6" r="4.0" fill="#6b6768"/>
<polygon points="810.8,525.8 811.8,528.2 814.4,528.4 812.4,530.1 813.0,532.7 810.8,531.3 808.6,532.7 809.2,530.1 807.2,528.4 809.8,528.2" fill="#f3d9b0"/>
<circle cx="868.5" cy="529.8" r="4.0" fill="#6b6768"/>
<polygon points="868.5,526.0 869.5,528.4 872.1,528.6 870.1,530.3 870.7,532.9 868.5,531.5 866.3,532.9 866.9,530.3 864.9,528.6 867.5,528.4" fill="#f3d9b0"/>
<path d="M 630.0,755.0 L 953.6,755.0" stroke="#d05fab" stroke-width="14.7" fill="none"/>
<path d="M 924.6,724.0 L 955.6,755.0 L 924.6,786.0" stroke="#d05fab" stroke-width="14.7" fill="none" stroke-linejoin="miter" stroke-miterlimit="10"/>
<path d="M 797.0,490.0 L 797.0,976.4" stroke="#d05fab" stroke-width="15" fill="none"/>
<path d="M 767.0,948.4 L 797.0,978.4 L 827.0,948.4" stroke="#d05fab" stroke-width="15" fill="none" stroke-linejoin="miter" stroke-miterlimit="10"/>
<circle cx="796.8" cy="644.3" r="29.0" fill="#fff" stroke="#1a1a1a" stroke-width="1.8"/>
<text transform="translate(796.8 656.8) scale(1.13 1)" x="0" y="0" class="lt" text-anchor="middle">E</text>
<circle cx="724.4" cy="754.5" r="29.0" fill="#fff" stroke="#1a1a1a" stroke-width="1.8"/>
<text transform="translate(724.4 767.0) scale(1.13 1)" x="0" y="0" class="lt" text-anchor="middle">D</text>
</svg>
</body></html>
